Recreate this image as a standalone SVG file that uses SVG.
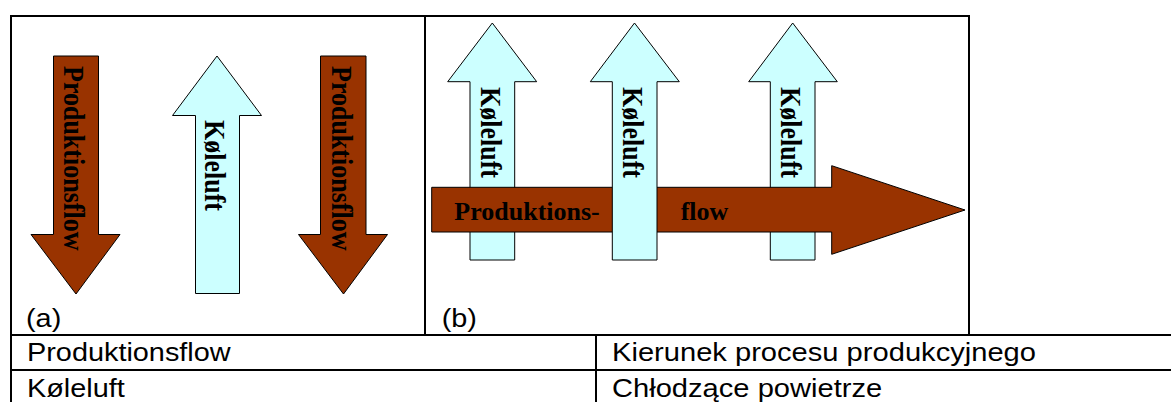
<svg xmlns="http://www.w3.org/2000/svg" width="1171" height="402" viewBox="0 0 1171 402">
<style>
.brown{fill:#993300;stroke:#000;stroke-width:1}
.cyan{fill:#CCFFFF;stroke:#000;stroke-width:1}
.lbl{font-family:"Liberation Serif","Times New Roman",serif;font-weight:bold;font-size:26px;fill:#000}
.tbl{font-family:"Liberation Sans",Arial,sans-serif;font-size:26px;fill:#000}
.line{stroke:#000;stroke-width:2;fill:none}
</style>
<rect x="0" y="0" width="1171" height="402" fill="#fff"/>
<g id="frame">
<line class="line" x1="11" y1="16" x2="969" y2="16"/>
<line class="line" x1="11" y1="15" x2="11" y2="402"/>
<line class="line" x1="425" y1="16" x2="425" y2="335"/>
<line class="line" x1="969" y1="15" x2="969" y2="335"/>
<line class="line" x1="10" y1="335" x2="1171" y2="335"/>
<line class="line" x1="10" y1="370" x2="1171" y2="370"/>
<line class="line" x1="596" y1="335" x2="596" y2="402"/>
</g>
<g id="connectors"></g>
<g id="a-prod-left">
<polygon class="brown" points="53.5,56 98.5,56 98.5,234.5 120,234.5 76,294 31,234.5 53.5,234.5"/>
<text class="lbl" transform="translate(63.5,66) rotate(90) scale(1,1.1)">Produktionsflow</text>
</g>
<g id="a-cool">
<polygon class="cyan" points="217,56 261.5,115.5 239.5,115.5 239.5,293.5 195.5,293.5 195.5,115.5 172.5,115.5"/>
<text class="lbl" transform="translate(205,120) rotate(90) scale(1,1.1)">Køleluft</text>
</g>
<g id="a-prod-right">
<polygon class="brown" points="320.5,56 366,56 366,234.5 387.5,234.5 343.5,294 298.5,234.5 320.5,234.5"/>
<text class="lbl" transform="translate(331.5,66) rotate(90) scale(1,1.1)">Produktionsflow</text>
</g>
<g id="a-label"><text class="tbl" transform="translate(26,327) scale(1.11,1)">(a)</text></g>
<g id="b-cool-1">
<polygon class="cyan" points="492.3,23 536.7,81.7 514.7,81.7 514.7,260 470,260 470,81.7 447.7,81.7"/>
<text class="lbl" transform="translate(480.5,87) rotate(90) scale(1,1.1)">Køleluft</text>
</g>
<g id="b-cool-3">
<polygon class="cyan" points="792.7,23 837.3,81.7 815,81.7 815,260 770.3,260 770.3,81.7 748.7,81.7"/>
<text class="lbl" transform="translate(781,87) rotate(90) scale(1,1.1)">Køleluft</text>
</g>
<g id="b-prod">
<polygon class="brown" points="431.7,187.3 831.7,187.3 831.7,165.7 965,210 831.7,254.3 831.7,232 431.7,232"/>
<text class="lbl" x="454.3" y="220">Produktions-</text>
<text class="lbl" x="680.7" y="220">flow</text>
</g>
<g id="b-cool-2">
<polygon class="cyan" points="634.5,23 679.3,81.7 657,81.7 657,260 612.3,260 612.3,81.7 590.3,81.7"/>
<text class="lbl" transform="translate(622.5,87) rotate(90) scale(1,1.1)">Køleluft</text>
</g>
<g id="b-label"><text class="tbl" transform="translate(441.7,327) scale(1.11,1)">(b)</text></g>
<g id="table">
<text class="tbl" transform="translate(27,361) scale(1.11,1)">Produktionsflow</text>
<text class="tbl" transform="translate(27,396.5) scale(1.11,1)">Køleluft</text>
<text class="tbl" transform="translate(612,361) scale(1.12,1)">Kierunek procesu produkcyjnego</text>
<text class="tbl" transform="translate(612,396.5) scale(1.12,1)">Chłodzące powietrze</text>
</g>
</svg>
